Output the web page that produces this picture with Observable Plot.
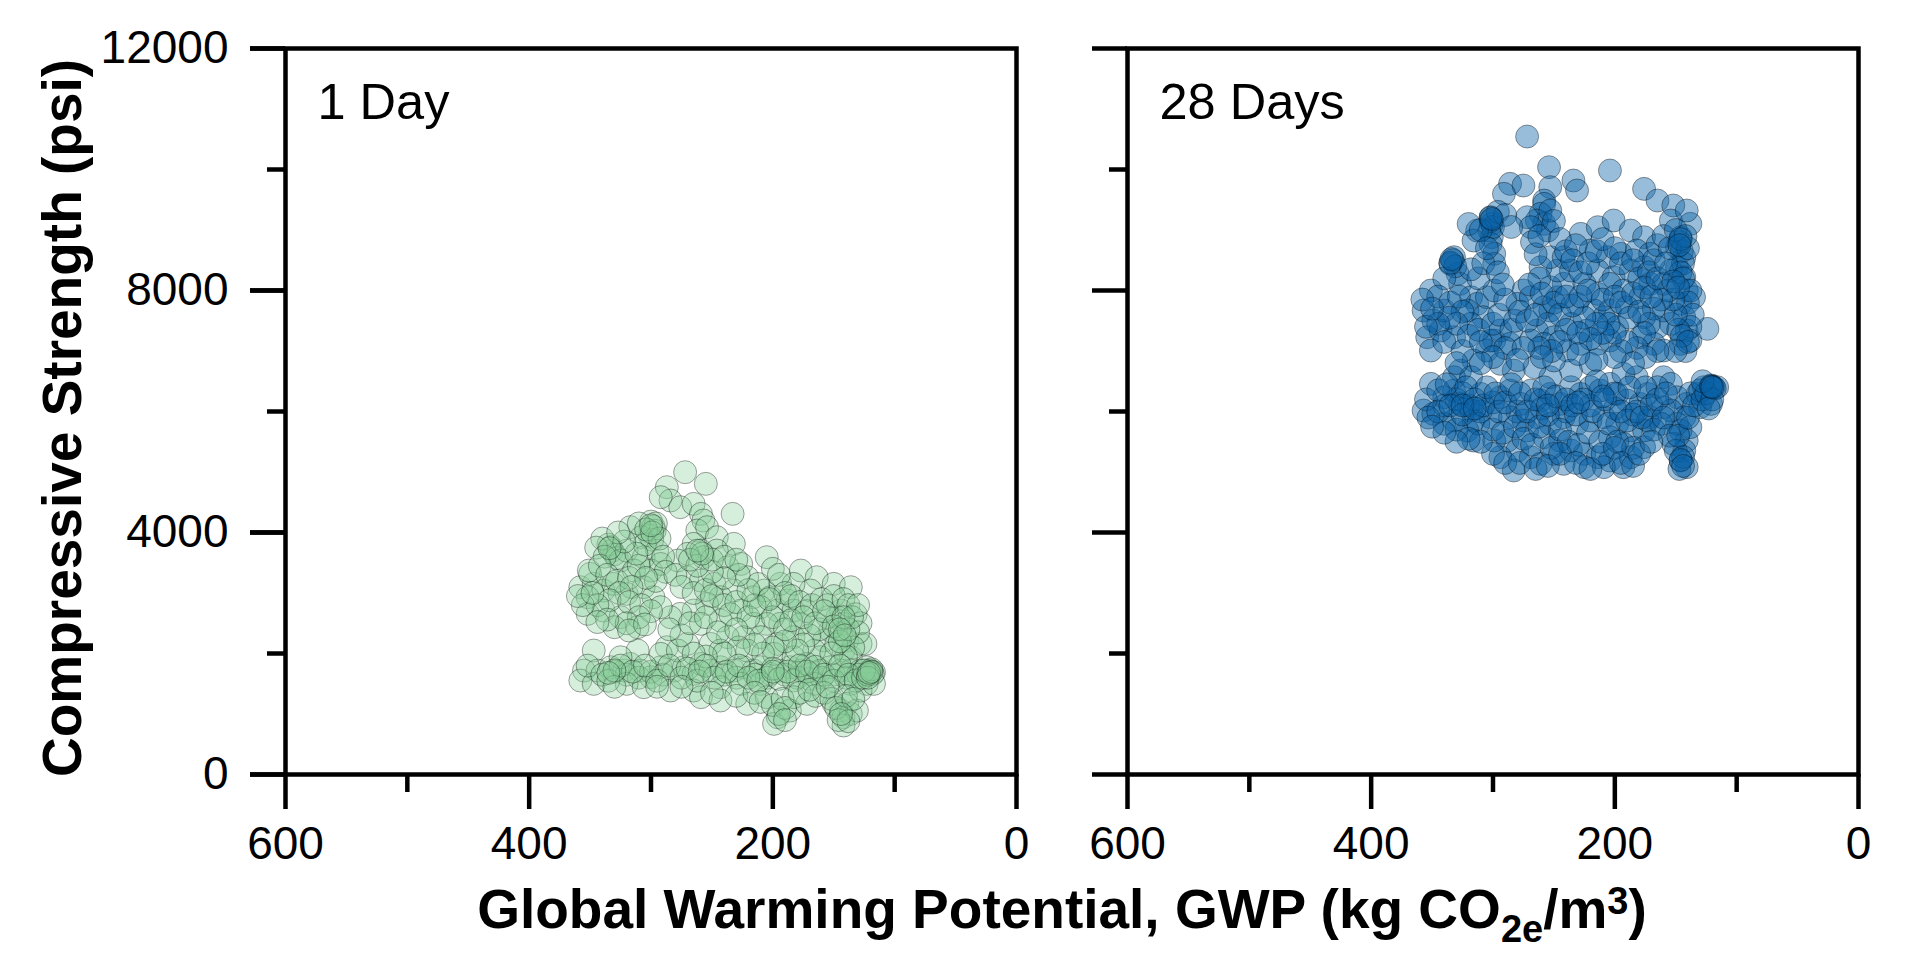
<!DOCTYPE html>
<html><head><meta charset="utf-8">
<script src="https://cdn.jsdelivr.net/npm/d3@7"></script>
<script src="https://cdn.jsdelivr.net/npm/@observablehq/plot@0.6"></script>
<style>
body{margin:0;background:#fff;}
#chart svg{display:block;}
</style>
</head><body><div id="chart"></div>
<script>
const panels = ["1 Day", "28 Days"];
const xMajor = [600, 400, 200, 0];
const xMinor = [500, 300, 100];
const yMajor = [0, 4000, 8000, 12000];
const yMinor = [2000, 6000, 10000];
const xLabel = "Global Warming Potential, GWP (kg CO";
const yLabel = "Compressive Strength (psi)";

// [GWP, strength]
const day1 = [
[333,3760],[332,3700],[330,3640],[335,3800],[328,3580],
[300,4180],[298,4100],[297,4030],[301,3950],[299,3880],[296,4150],
[317,4088],[308,3922],[320,3700],[306,3590],[295,3700],[325,3537],[314,3371],[300,3371],[292,3480],
[358,3096],[347,3151],[339,3040],[352,2930],[331,3151],[320,2986],[306,3096],[298,2930],
[352,2655],[339,2710],[325,2600],[311,2435],[330,2435],[350,3316],[351,3371],
[272,4997],[255,4804],[287,4749],[284,4529],[292,4584],[276,4418],[265,4473],[259,4308],[257,4198],[262,4033],[254,4088],[265,3812],[259,3702],[257,3592],[270,3647],[278,3537],[233,4308],[246,3922],[232,3812],[246,3702],
[270,3261],[259,3206],[248,3151],[237,3426],[226,3481],[221,3261],[232,3041],[243,2931],[254,2820],[265,2710],[276,2655],[284,2600],[292,2766],[259,2490],[243,2545],[226,2710],[216,2931],[207,3041],[202,2931],[210,2766],[196,2710],[188,2876],[183,2710],[177,2490],[194,2490],[205,2490],[216,2490],[210,2270],[196,2159],[183,2270],[224,2270],[237,2270],[251,2159],[270,2159],[287,2104],
[177,3371],[164,3261],[150,3151],[136,3096],[169,3041],[194,3151],[205,3592],[183,3151],
[144,2710],[147,2600],[142,2490],[144,2325],[139,2215],[142,2049],[136,1939],[153,2380],[155,2600],[158,2215],[161,1939],[166,2049],[128,2159],[124,2159],
[355,1718],[347,2049],[358,1553],[344,1718],[333,1773],[322,1718],[317,1828],[309,1718],[300,1608],[311,2049],[292,1773],[281,1718],[273,1773],[265,1663],[259,1828],[251,1718],[243,1773],[232,1718],[224,1773],[216,1718],[210,1773],[202,1663],[194,1718],[186,1773],[177,1718],[169,1663],[161,1718],[153,1773],[144,1718],[136,1718],[128,1718],[120,1718],[117,1690],[123,1773],[120,1700],[118,1660],
[330,1700],[320,1650],[310,1600],[300,1700],[290,1650],[240,1650],[230,1600],[215,1650],[205,1600],[190,1650],[180,1600],[170,1580],[160,1600],[150,1650],[140,1600],[130,1650],
[347,1498],[320,1498],[306,1443],[284,1388],[265,1388],[243,1443],[226,1498],[210,1498],[183,1553],[166,1498],[136,1498],[123,1498],[325,1938],[292,1994],[278,2049],[243,2049],[221,2049],[199,1994],[183,1939],[172,1828],
[259,1278],[243,1223],[221,1168],[205,1278],[196,947],[199,837],[186,1057],[183,1278],[172,1168],[150,1168],[144,1057],[139,1168],[142,947],[136,1002],[131,1057],[142,810],[128,1388],[117,1498],
[340,3900],[345,3750],[338,3600],[342,3450],[336,3300],[328,3200],[318,3250],[310,3450],[305,3800],[312,3650],[322,3850],[327,4000],[310,4150],[304,4050],[293,3900],[290,3600],[288,3350],[296,3200],[304,3250],[316,3100],[326,3000],[334,2880],[344,2800],[356,2800],[360,2950],[348,3000],[318,2850],[308,2800],[300,2700],[310,2600],[320,2500],[336,2560],[344,2520],[318,2380],[305,2480],
[280,3300],[275,3100],[265,3000],[255,3050],[250,2950],[240,2800],[235,2650],[230,2850],[220,2600],[215,2800],[212,3150],[220,3050],[228,3300],[240,3250],[250,3350],[262,3450],[268,3550],[250,3550],[240,3600],[230,3550],[200,3400],[195,3300],[190,3000],[185,2950],[178,2850],[172,2700],[168,2800],[160,2900],[155,2800],[150,2950],[142,2900],[138,2800],[132,2650],[128,2500],[130,2350],[134,2100],[140,1950],[148,2150],[152,2000],[162,2400],[170,2300],[175,2150],[180,2050],[190,2200],[200,2100],[208,2000],[215,2150],[228,2100],[240,2000],[255,1950],[265,2000],[275,2300],[285,2400],[268,2500],[255,2600],[245,2350],[230,2400],[200,2600],[190,2400],[185,2550],[175,2600],[165,2500],[158,2700],[150,2450],[145,2200],[138,2400],[135,2600],[130,2800],
[352,1800],[340,1650],[335,1550],[325,1800],[315,1700],[305,1800],[295,1550],[285,1800],[275,1600],[270,1750],[262,1550],[255,1800],[248,1600],[238,1700],[228,1800],[220,1600],[212,1550],[200,1750],[195,1580],[188,1700],[178,1800],[172,1700],[165,1780],[158,1650],[150,1550],[145,1800],[138,1650],[132,1550],[126,1600],[122,1650],[119,1740],[125,1720],[122,1600],
[250,1350],[230,1300],[215,1350],[210,1200],[200,1150],[192,1250],[190,1100],[195,1000],[178,1350],[165,1300],[158,1350],[152,1250],[148,1100],[140,1300],[134,1250],[146,900],[138,880],[144,1000],[190,900],[170,1400],[155,1450],[275,1450],[295,1450],[330,1450],
[334,3740],[299,4000],[300,4120],[258,3650],[262,3700],[203,2900],[142,2600],[145,2400],[141,2300],[119,1700],[121,1680],[330,1720],[335,1680],[260,1700],[200,1700]
];

const day28 = [
[272,10545],[254,10038],[204,9983],[234,9818],[176,9680],[165,9487],[152,9405],[286,9763],[275,9735],[291,9598],[253,9708],[258,9487],[231,9653],
[302,9212],[301,9102],[303,8991],[301,8881],[302,8771],[299,8606],[299,8440],[302,9150],[300,9050],[313,8991],[316,8826],
[332,8551],[335,8440],[329,8275],[327,8110],[333,8500],[331,8400],
[318,7889],[313,7779],[321,7669],[305,7889],[299,8000],[308,7559],[318,7449],
[351,8000],[357,7669],[349,7504],[354,7228],[343,7338],[332,7228],[351,7008],[340,7669],
[299,7173],[294,7338],[286,7118],[305,7008],
[258,9432],[261,9267],[258,9102],[255,8991],[264,9157],[253,9322],[272,9212],[269,9047],
[275,8000],[280,7779],[269,7889],[258,7724],[253,7669],[255,7449],[264,7338],[250,7228],[258,7118],[269,7173],[247,7889],[242,8110],[253,8055],[247,8330],[261,8385],[253,8551],[242,8551],[236,8330],
[228,8936],[214,9047],[201,9157],[187,8991],[176,8881],[220,8661],[206,8551],[195,8606],[182,8661],[171,8606],[214,8330],[201,8220],[187,8330],[176,8385],[225,8110],[214,7945],[204,8110],[193,8000],[179,7889],[171,8110],[231,7779],[217,7669],[204,7669],[190,7724],[209,7559],[198,7394],[223,7338],[236,7449],[228,7118],[239,7008],[214,7118],[204,7173],
[146,8881],[149,8716],[143,8551],[149,8385],[143,8220],[141,8000],[146,7779],[143,7559],[141,7338],[146,7118],[138,7173],[154,7449],[160,7669],[165,7394],[176,7559],[179,7228],[168,7118],[160,7008],[154,8330],[160,8110],[135,7890],[138,9102],[154,9157],[141,9322],[147,8800],[145,8650],[144,8450],[146,8300],
[124,7366],
[351,6457],[357,6016],[349,5961],[340,6236],[332,6347],[327,6126],[318,6016],[310,6291],[316,5851],[302,5906],[321,5686],[316,5520],[332,5851],[340,5796],
[316,6843],[327,6677],[332,6567],[318,6567],[302,7173],
[294,6236],[286,6347],[277,6126],[269,6347],[261,6181],[253,6291],[245,6126],[236,6402],[228,6291],[220,6402],[212,6347],[204,6457],[198,6291],[190,6181],[179,6126],[171,5906],[173,6291],
[286,5906],[275,5851],[264,5906],[253,5796],[242,5906],[231,5796],[220,5851],[209,5906],[198,5796],[187,5686],[272,5686],[258,5575],[245,5520],[288,5520],[280,5355],[269,5245],[250,5300],[236,5355],[225,5300],[214,5245],[204,5190],[193,5080],[187,5245],[176,5410],[283,5025],[261,5135],[294,5245],[299,5520],[242,5135],[225,5080],[209,5080],[193,5465],[204,5575],[176,5686],
[173,5851],[160,6567],[154,6457],[149,6236],[141,6126],[132,6291],[127,6402],[121,6430],[121,6420],[119,6402],[116,6402],[130,6071],[121,6126],[160,6071],[165,6402],[182,6567],[193,6622],[220,6788],[236,6677],[253,6567],[266,6733],[283,6677],[294,6788],[250,6843],
[143,5906],[146,5686],[141,5520],[143,5355],[146,5190],[141,5080],[149,5796],[152,5465],[138,5741],[154,6016],[162,5796],
[330,6200],[320,6100],[310,6000],[300,6150],[280,6000],[260,6050],[240,6000],[220,6100],[200,6050],[185,5950],[340,6100],[325,6300],
[340,8200],[345,7900],[335,7800],[328,7900],[325,7650],[330,7450],[336,7550],[345,7450],[355,7400],[358,7850],[350,7700],[340,7150],[325,7000],[320,7250],[312,7350],[310,7150],[300,7450],[295,7600],[290,7850],[285,7350],[282,7500],[290,7050],[312,8200],[318,8350],[308,8450],[296,8300],[292,8100],[268,8800],[265,8600],[262,8200],[270,8100],[278,7650],[272,7500],[265,7600],[260,7950],[250,7800],[245,7600],[240,7350],[245,7150],[252,7000],[262,7050],[275,7050],[320,9100],[310,9000],[305,8700],[296,9300],[290,9250],[285,9050],[262,8900],[250,9150],[245,8850],[240,8650],[232,8750],[235,8500],[228,8300],[222,8450],[215,8650],[210,8850],[200,8700],[195,8450],[185,8500],[180,8200],[172,8300],[168,8500],[165,8750],[160,8900],[155,8700],[150,9000],[140,8700],[142,8900],[144,8200],[138,8000],[140,7800],[136,7600],[138,7400],[142,7000],[148,7350],[150,7600],[152,7850],[156,8000],[162,7850],[168,7700],[172,7450],[176,7300],[182,7050],[190,7150],[195,7000],[200,7300],[205,7450],[210,7300],[215,7450],[220,7200],[225,7550],[230,7300],[235,7750],[240,7900],[228,7900],[222,8000],[210,7850],[200,7900],[195,7800],[188,7550],[185,7950],[180,7650],[176,8050],[170,7900],[165,8200],[158,8450],[152,8150],[148,8050],[145,7250],[140,7150],[150,7000],[165,7000],[175,6900],[185,6800],[200,6900],[215,6850],[230,6950],[260,6900],[280,6850],[300,6900],[310,6800],[330,6800],
[355,6200],[353,5900],[345,6350],[345,6000],[338,6450],[335,6100],[330,5700],[325,5950],[322,6400],[315,6200],[312,5800],[308,6100],[305,6400],[300,5700],[298,6300],[295,6000],[292,5650],[290,6150],[285,6450],[282,5750],[278,6300],[275,5550],[272,6000],[268,5450],[265,6200],[262,5750],[258,6400],[255,5950],[252,5400],[248,6250],[245,5700],[240,6200],[238,5500],[235,6100],[232,5950],[230,5450],[226,6200],[222,5650],[218,6000],[215,6500],[212,5500],[208,6200],[205,5800],[200,6300],[198,5500],[195,6000],[190,5850],[188,6400],[185,5400],[182,6000],[178,5900],[175,6400],[170,6100],[168,5700],[165,6200],[160,5900],[158,6300],[155,5600],[150,5350],[147,5050],[144,5250],[148,5600],[140,5900],[138,6300],[135,6100],[130,6350],[128,6200],[125,6300],[118,6380],[120,6200],[123,6050],[128,6500],[300,5300],[290,5150],[278,5150],[265,5050],[255,5100],[245,5300],[232,5150],[220,5050],[210,5300],[200,5400],[195,5150],[185,5100],[180,5300],[170,5500],[310,5500],[320,5550],[330,5500],[340,5650],[350,5750],
[302,9200],[301,9180],[335,8460],[334,8520],[146,8850],[147,8750],[121,6410],[120,6400],[325,6100],[315,6050],[255,6100],[230,6150],[210,6250],[146,5200],[144,5100]
];

const data = [
  ...day1.map(([g, v]) => ({panel: panels[0], gwp: g, strength: v})),
  ...day28.map(([g, v]) => ({panel: panels[1], gwp: g, strength: v}))
];

const W = 1906, H = 976;
const chart = Plot.plot({
  width: W, height: H,
  marginLeft: 285, marginRight: 48, marginTop: 48, marginBottom: 202,
  style: {fontFamily: "'Liberation Sans', Arial, sans-serif", background: "#fff", color: "#000"},
  fx: {domain: panels, paddingInner: 111/842, paddingOuter: 0, round: false, axis: null, label: null},
  x: {domain: [600, 0]},
  y: {domain: [0, 12000]},
  marks: [
    Plot.dot(data, {filter: d => d.panel === panels[0], fx: "panel", x: "gwp", y: "strength", r: 11.5,
      fill: "#86cc98", fillOpacity: 0.34, stroke: "#000", strokeOpacity: 0.4, strokeWidth: 0.9}),
    Plot.dot(data, {filter: d => d.panel === panels[1], fx: "panel", x: "gwp", y: "strength", r: 11.5,
      fill: "#0a62a8", fillOpacity: 0.42, stroke: "#000", strokeOpacity: 0.42, strokeWidth: 0.9}),
    Plot.frame({stroke: "#000", strokeWidth: 4.5}),
    Plot.axisY({ticks: yMajor, tickSize: 35, strokeWidth: 4.5, fill: "none", facetAnchor: null, label: null}),
    Plot.axisY({ticks: yMinor, tickSize: 18, strokeWidth: 4.5, fill: "none", facetAnchor: null, label: null}),
    Plot.axisY({ticks: yMajor, tickSize: 35, tickPadding: 22, strokeWidth: 4.5, fontSize: 46, tickFormat: d => String(d), facetAnchor: "left", label: null}),
    Plot.axisX({ticks: xMajor, tickSize: 35, tickPadding: 17, strokeWidth: 4.5, fontSize: 46, tickFormat: d => String(d), facetAnchor: null, label: null}),
    Plot.axisX({ticks: xMinor, tickSize: 18, strokeWidth: 4.5, fill: "none", facetAnchor: null, label: null}),
    Plot.text(panels, {fx: d => d, text: d => d, frameAnchor: "top-left", textAnchor: "start", lineAnchor: "top",
      dx: 32, dy: 35, fontSize: 50.5, fill: "#000"})
  ]
});
document.getElementById("chart").appendChild(chart);

const svg = d3.select(chart);
svg.append("text")
  .attr("transform", "translate(81,418) rotate(-90)")
  .attr("text-anchor", "middle")
  .attr("font-family", "'Liberation Sans', Arial, sans-serif")
  .attr("font-weight", "bold").attr("font-size", 55).attr("fill", "#000")
  .text(yLabel);

const xl = svg.append("text")
  .attr("x", 1062).attr("y", 928)
  .attr("text-anchor", "middle")
  .attr("font-family", "'Liberation Sans', Arial, sans-serif")
  .attr("font-weight", "bold").attr("font-size", 55).attr("fill", "#000");
xl.append("tspan").text(xLabel);
xl.append("tspan").attr("font-size", 38).attr("dy", 14).text("2e");
xl.append("tspan").attr("dy", -14).text("/m");
xl.append("tspan").attr("font-size", 38).attr("dy", -14).text("3");
xl.append("tspan").attr("dy", 14).text(")");
</script>
</body></html>
